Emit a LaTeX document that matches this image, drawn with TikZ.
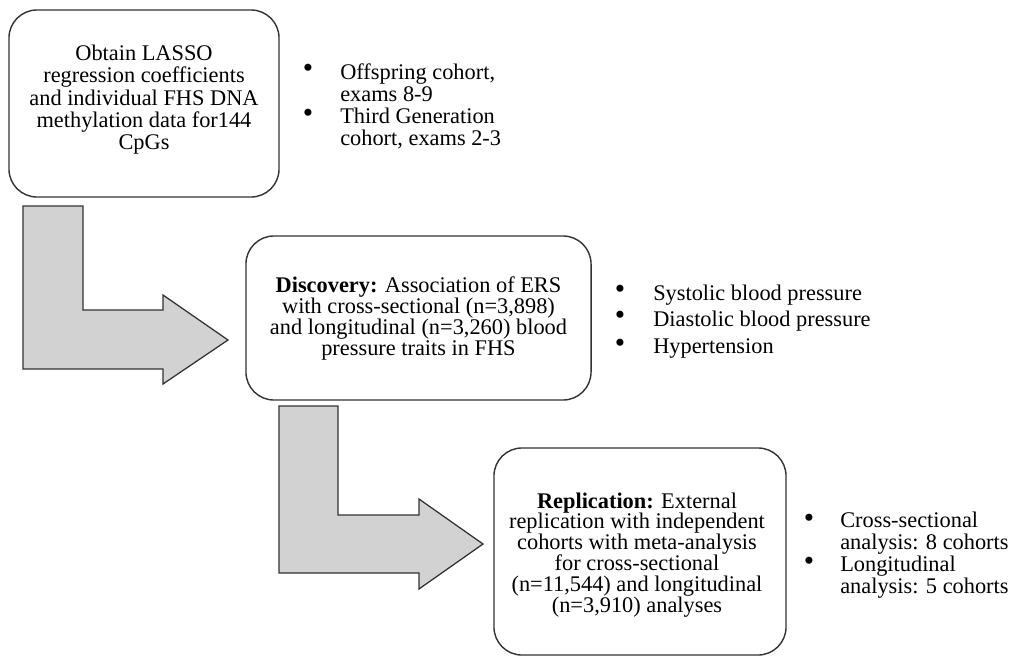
\documentclass[tikz,border=0pt]{standalone}
\usepackage{fontspec}
\setmainfont{Liberation Serif}
\definecolor{elbowfill}{RGB}{210,210,210}
\definecolor{edgegray}{RGB}{50,50,50}
\begin{document}
\begin{tikzpicture}[x=0.025cm, y=-0.025cm,
		stage/.style={draw=edgegray, line width=1pt, rounded corners=0.7cm, inner sep=0pt},
		stagetext/.style={align=center, inner sep=0pt, font=\fontsize{15.9}{14.8}\selectfont},
		bulletmark/.style={inner sep=0pt, font=\fontsize{21}{21}\selectfont},
		itemtext/.style={anchor=west, inner sep=0pt, align=left, font=\fontsize{15.9}{15.6}\selectfont},
		elbow/.style={draw=edgegray, line width=0.9pt, fill=elbowfill, line join=miter}]
		\useasboundingbox (0,0) rectangle (1020,657);

		% the three stages
		\node[stage, minimum width=6.75cm, minimum height=4.675cm] (obtain) at (144,103.5) {};
		\node[stagetext, font=\fontsize{15.9}{15.9}\selectfont] (obtaintext) at (144,99.8) {Obtain LASSO\\regression coefficients\\and individual FHS DNA\\methylation data for144\\CpGs};
		\node[stage, minimum width=8.625cm, minimum height=4.1cm] (discovery) at (418.5,318) {};
		\node[stagetext] (discoverytext) at (418.5,318.7) {\textbf{Discovery:} Association of ERS\\with cross-sectional (n=3,898)\\and longitudinal (n=3,260) blood\\pressure traits in FHS};
		\node[stage, minimum width=7.3cm, minimum height=5.175cm] (replication) at (640,551.5) {};
		\node[stagetext] (replicationtext) at (637,554.7) {\textbf{Replication:} External\\replication with independent\\cohorts with meta-analysis\\for cross-sectional\\(n=11,544) and longitudinal\\(n=3,910) analyses};

		% elbow arrows
		\draw[elbow] (23,206) -- (83,206) -- (83,310) -- (163,310) -- (163,295) -- (228,340) -- (163,384) -- (163,369) -- (23,369) -- cycle;
		\draw[elbow] (279,406) -- (338,406) -- (338,515) -- (419,515) -- (419,499) -- (483,544) -- (419,589) -- (419,573) -- (279,573) -- cycle;

		% bullets beside the stages
		\node[bulletmark] (obtainA) at (308,71) {\textbullet};
		\node[itemtext] (obtainAtext) at (340,82.3) {Offspring cohort,\\exams 8-9};
		\node[bulletmark] (obtainB) at (308,116) {\textbullet};
		\node[itemtext] (obtainBtext) at (340,128.8) {Third Generation\\cohort, exams 2-3};

		\node[bulletmark] (discoveryA) at (620,292) {\textbullet};
		\node[itemtext] (discoveryAtext) at (653,294.7) {Systolic blood pressure};
		\node[bulletmark] (discoveryB) at (620,318) {\textbullet};
		\node[itemtext] (discoveryBtext) at (653,320.7) {Diastolic blood pressure};
		\node[bulletmark] (discoveryC) at (620,346) {\textbullet};
		\node[itemtext] (discoveryCtext) at (653,349) {Hypertension};

		\node[bulletmark] (replicationA) at (809,521) {\textbullet};
		\node[itemtext] (replicationAtext) at (840,532.7) {Cross-sectional\\analysis: 8 cohorts};
		\node[bulletmark] (replicationB) at (809,564) {\textbullet};
		\node[itemtext] (replicationBtext) at (840,576.7) {Longitudinal\\analysis: 5 cohorts};
	\end{tikzpicture}
\end{document}
